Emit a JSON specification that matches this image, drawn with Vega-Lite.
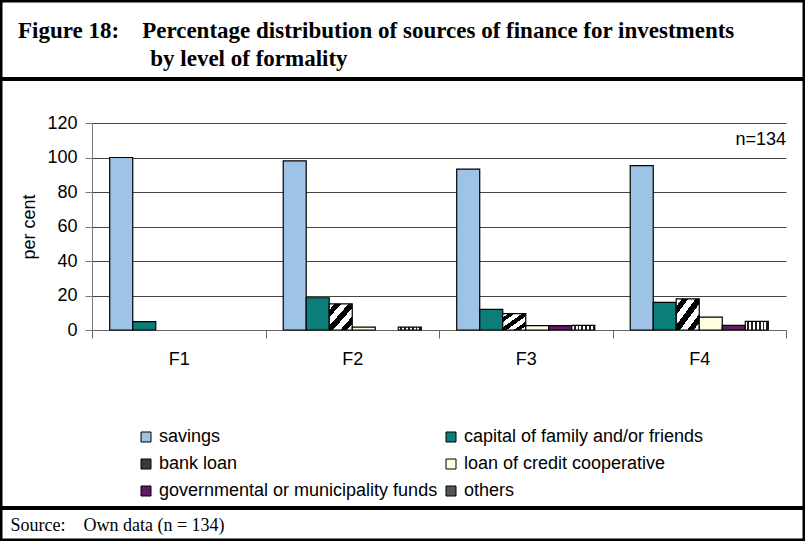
{
  "$schema": "https://vega.github.io/schema/vega-lite/v6.json",
  "width": 805,
  "height": 541,
  "autosize": {"type": "none"},
  "padding": 0,
  "background": "white",
  "config": {
    "view": {"stroke": "black", "strokeWidth": 5},
    "axis": {"labelFont": "Liberation Sans", "labelColor": "black", "titleFont": "Liberation Sans", "titleColor": "black", "titleFontWeight": "normal"}
  },
  "title": {
    "text": ["Figure 18:\u00a0\u00a0\u00a0\u00a0Percentage distribution of sources of finance for investments", "\u200b\u00a0\u00a0\u00a0\u00a0\u00a0\u00a0\u00a0\u00a0\u00a0\u00a0\u00a0\u00a0\u00a0\u00a0\u00a0\u00a0\u00a0\u00a0\u00a0\u00a0\u00a0\u00a0\u00a0by level of formality"],
    "anchor": "start",
    "frame": "group",
    "orient": "top",
    "baseline": "top",
    "offset": -14,
    "dy": 57,
    "dx": 18,
    "font": "Liberation Serif",
    "fontSize": 23,
    "fontWeight": "bold",
    "lineHeight": 28,
    "color": "black"
  },
  "data": {
    "values": [
      {"level": "F1", "source": "savings", "pct": 100},
      {"level": "F1", "source": "capital of family and/or friends", "pct": 4.8},
      {"level": "F2", "source": "savings", "pct": 98},
      {"level": "F2", "source": "capital of family and/or friends", "pct": 18.7},
      {"level": "F2", "source": "bank loan", "pct": 15.2},
      {"level": "F2", "source": "loan of credit cooperative", "pct": 1.7},
      {"level": "F2", "source": "others", "pct": 1.7},
      {"level": "F3", "source": "savings", "pct": 93.3},
      {"level": "F3", "source": "capital of family and/or friends", "pct": 12},
      {"level": "F3", "source": "bank loan", "pct": 9.5},
      {"level": "F3", "source": "loan of credit cooperative", "pct": 2.5},
      {"level": "F3", "source": "governmental or municipality funds", "pct": 2.5},
      {"level": "F3", "source": "others", "pct": 2.7},
      {"level": "F4", "source": "savings", "pct": 95.3},
      {"level": "F4", "source": "capital of family and/or friends", "pct": 16},
      {"level": "F4", "source": "bank loan", "pct": 18},
      {"level": "F4", "source": "loan of credit cooperative", "pct": 7.5},
      {"level": "F4", "source": "governmental or municipality funds", "pct": 2.7},
      {"level": "F4", "source": "others", "pct": 5}
    ]
  },
  "layer": [
    {
      "mark": {"type": "bar", "stroke": "black", "strokeWidth": 1.2},
      "encoding": {
        "x": {
          "field": "level", "type": "nominal",
          "scale": {"range": [92, 786], "paddingInner": 0, "paddingOuter": 0},
          "axis": {
            "orient": "bottom", "offset": -211, "tickBand": "extent", "tickSize": 8, "tickColor": "#666", "domainColor": "#666",
            "labelFontSize": 18, "labelPadding": 12, "labelAngle": 0,
            "title": "Source:\u00a0\u00a0\u00a0\u00a0Own data (n = 134)",
            "titleFont": "Liberation Serif", "titleFontSize": 18, "titleAlign": "left", "titleAnchor": "start", "titleBaseline": "middle",
            "titleX": 10, "titleY": 195
          }
        },
        "xOffset": {
          "field": "source", "type": "nominal",
          "scale": {"domain": ["savings", "capital of family and/or friends", "bank loan", "loan of credit cooperative", "governmental or municipality funds", "others"], "paddingOuter": 0.77, "paddingInner": 0}
        },
        "y": {
          "field": "pct", "type": "quantitative",
          "scale": {"domain": [0, 120], "range": [330, 123], "nice": false},
          "axis": {
            "offset": -92, "values": [0, 20, 40, 60, 80, 100, 120], "tickSize": 7, "tickColor": "#777", "domainColor": "#777",
            "gridColor": "#444", "gridWidth": 1, "labelFontSize": 18, "labelPadding": 8,
            "title": "per cent", "titleFontSize": 18, "titlePadding": 8
          }
        },
        "fill": {
          "condition": [
            {"test": "datum.source === 'bank loan'", "value": {"gradient": "linear", "x1": 0, "y1": 0, "x2": 1, "y2": 1, "stops": [
                {"offset": 0, "color": "white"}, {"offset": 0.12, "color": "white"}, {"offset": 0.12, "color": "black"}, {"offset": 0.26, "color": "black"},
                {"offset": 0.26, "color": "white"}, {"offset": 0.42, "color": "white"}, {"offset": 0.42, "color": "black"}, {"offset": 0.58, "color": "black"},
                {"offset": 0.58, "color": "white"}, {"offset": 0.74, "color": "white"}, {"offset": 0.74, "color": "black"}, {"offset": 0.88, "color": "black"},
                {"offset": 0.88, "color": "white"}, {"offset": 1, "color": "white"}]}},
            {"test": "datum.source === 'others'", "value": {"gradient": "linear", "x1": 0, "y1": 0, "x2": 1, "y2": 0, "stops": [
                {"offset": 0, "color": "white"}, {"offset": 0.083, "color": "white"}, {"offset": 0.083, "color": "#222"}, {"offset": 0.167, "color": "#222"},
                {"offset": 0.167, "color": "white"}, {"offset": 0.25, "color": "white"}, {"offset": 0.25, "color": "#222"}, {"offset": 0.333, "color": "#222"},
                {"offset": 0.333, "color": "white"}, {"offset": 0.417, "color": "white"}, {"offset": 0.417, "color": "#222"}, {"offset": 0.5, "color": "#222"},
                {"offset": 0.5, "color": "white"}, {"offset": 0.583, "color": "white"}, {"offset": 0.583, "color": "#222"}, {"offset": 0.667, "color": "#222"},
                {"offset": 0.667, "color": "white"}, {"offset": 0.75, "color": "white"}, {"offset": 0.75, "color": "#222"}, {"offset": 0.833, "color": "#222"},
                {"offset": 0.833, "color": "white"}, {"offset": 0.917, "color": "white"}, {"offset": 0.917, "color": "#222"}, {"offset": 1, "color": "#222"}]}}
          ],
          "field": "source", "type": "nominal",
          "scale": {
            "domain": ["savings", "capital of family and/or friends", "bank loan", "loan of credit cooperative", "governmental or municipality funds", "others"],
            "range": ["#9DC3E6", "#0C7E7A", "#3A3A3A", "#FFFFE0", "#5E1A63", "#555555"]
          },
          "legend": {
            "orient": "none", "legendX": 137, "legendY": 428, "columns": 2, "direction": "horizontal", "title": null,
            "symbolType": "square", "symbolSize": 100, "symbolStrokeColor": "black", "symbolStrokeWidth": 1,
            "labelFont": "Liberation Sans", "labelFontSize": 18, "labelColor": "black", "labelOffset": 4,
            "rowPadding": 9, "columnPadding": 4, "labelLimit": 400
          }
        }
      }
    },
    {
      "mark": {"type": "text", "align": "right", "baseline": "middle", "font": "Liberation Sans", "fontSize": 18, "color": "black"},
      "data": {"values": [{"label": "n=134", "level": "F4", "pct": 110}]},
      "encoding": {
        "x": {"field": "level", "type": "nominal", "bandPosition": 1},
        "y": {"field": "pct", "type": "quantitative"},
        "text": {"field": "label"}
      }
    },
    {
      "mark": {"type": "rule", "color": "black", "strokeWidth": 3},
      "encoding": {"y": {"datum": 145.5}}
    },
    {
      "mark": {"type": "rule", "color": "black", "strokeWidth": 3},
      "encoding": {"y": {"datum": -103.2}}
    }
  ]
}
